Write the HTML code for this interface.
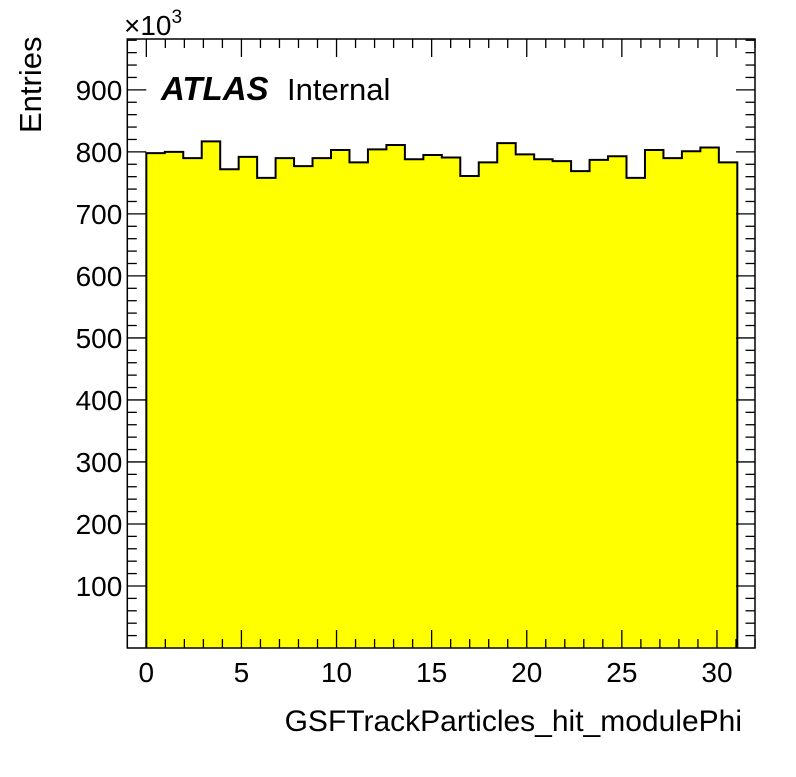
<!DOCTYPE html>
<html><head><meta charset="utf-8"><style>
body{margin:0;background:#fff;}
svg text{font-family:"Liberation Sans",Arial,sans-serif;}
</style></head><body>
<svg id="chart" width="796" height="772" xmlns="http://www.w3.org/2000/svg">
<rect width="796" height="772" fill="#fff"/>
<g id="bars"></g>
<g id="axes"></g>
<text x="161" y="100" font-size="33" font-weight="bold" font-style="italic">ATLAS</text>
<text x="287" y="100" font-size="31">Internal</text>
<text x="124" y="35" font-size="28">×10<tspan dy="-12" font-size="19">3</tspan></text>
<text x="742" y="731" font-size="30" text-anchor="end">GSFTrackParticles_hit_modulePhi</text>
<text transform="translate(41,133) rotate(-90)" font-size="31" text-anchor="start">Entries</text>
</svg>
<script>
const values = [798,800,790,817,772,792,758,790,777,790,803,783,804,811,788,795,791,761,783,814,796,788,785,769,787,793,758,803,790,801,807,783];
const xTicks = [0,5,10,15,20,25,30];
const yTicks = [100,200,300,400,500,600,700,800,900];
const binStart = 0, binEnd = 31.07;
const L=127.3,R=755,T=39,B=648;
const xMin=-1,xMax=32,yMin=0,yMax=982;
const sx=v=>L+(v-xMin)/(xMax-xMin)*(R-L);
const sy=v=>B-(v-yMin)/(yMax-yMin)*(B-T);
const NS="http://www.w3.org/2000/svg";
function mk(tag,attrs,parent){const e=document.createElementNS(NS,tag);for(const k in attrs)e.setAttribute(k,attrs[k]);parent.appendChild(e);return e;}
const bars=document.getElementById('bars'), axes=document.getElementById('axes');
const w=(binEnd-binStart)/values.length;
let d=`M${sx(binStart)},${B}`;
values.forEach((v,i)=>{
  const b=mk('rect',{x:sx(binStart+i*w),y:sy(v),width:sx(binStart+(i+1)*w)-sx(binStart+i*w)+0.5,height:B-sy(v),fill:'#ffff00'},bars);
  
  
  d+=`L${sx(binStart+i*w)},${sy(v)}L${sx(binStart+(i+1)*w)},${sy(v)}`;
});
d+=`L${sx(binEnd)},${B}`;
const outline=mk('path',{d:d,fill:'none',stroke:'#000','stroke-width':2},bars);


const frame=mk('rect',{x:L,y:T,width:R-L,height:B-T,fill:'none',stroke:'#000','stroke-width':1.5},axes);


for(let v=-1;v<=32;v++){
  const x=sx(v), len=(v%5===0)?18:9;
  mk('line',{x1:x,x2:x,y1:B,y2:B-len,stroke:'#000','stroke-width':1.3},axes);
  mk('line',{x1:x,x2:x,y1:T,y2:T+len,stroke:'#000','stroke-width':1.3},axes);
}
xTicks.forEach(v=>{
  const t=mk('text',{x:sx(v),y:B+34,'font-size':28,'text-anchor':'middle'},axes);
  t.textContent=v;
  
  
});
for(let v=20;v<982;v+=20){
  const y=sy(v), len=(v%100===0)?19:9.5;
  mk('line',{x1:L,x2:L+len,y1:y,y2:y,stroke:'#000','stroke-width':1.3},axes);
  mk('line',{x1:R,x2:R-len,y1:y,y2:y,stroke:'#000','stroke-width':1.3},axes);
}
yTicks.forEach(v=>{
  const t=mk('text',{x:L-5,y:sy(v)+10,'font-size':28,'text-anchor':'end'},axes);
  t.textContent=v;
  
  
});
</script>
</body></html>
